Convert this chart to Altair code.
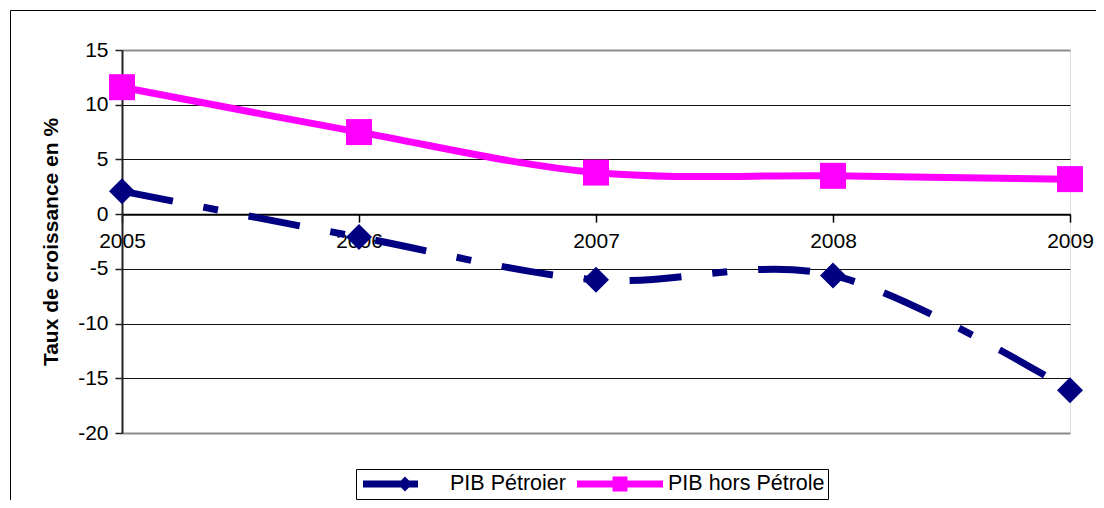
import altair as alt
import pandas as pd

# ---- data ----
years = [2005, 2006, 2007, 2008, 2009]
pib_petrolier = [2.1, -2.1, -6.0, -5.6, -16.1]
pib_hors_petrole = [11.6, 7.5, 3.8, 3.5, 3.2]
series_names = ["PIB Pétroier", "PIB hors Pétrole"]
series_colors = ["#000080", "#FF00FF"]
y_ticks = [-20, -15, -10, -5, 0, 5, 10, 15]

rows = []
for name, vals in zip(series_names, [pib_petrolier, pib_hors_petrole]):
    for yr, v in zip(years, vals):
        rows.append({"annee": yr, "valeur": v, "serie": name})
df = pd.DataFrame(rows)

W, H = 948, 383
YMIN, YMAX = -20, 15
FONT = "Liberation Sans"
FS = 21

x_axis = alt.Axis(
    values=years, format="d", title=None, grid=False,
    offset=-H * (0 - YMIN) / (YMAX - YMIN),
    domainColor="black", domainWidth=2, tickColor="black", tickWidth=1.5,
    tickSize=8, labelFlush=False, labelOverlap=False, labelPadding=8,
    labelFontSize=FS, labelFont=FONT, labelColor="black",
)
y_axis = alt.Axis(
    values=y_ticks, title="Taux de croissance en %", grid=True,
    labelExpr="'' + datum.value",
    gridColor={"condition": {"test": "datum.value == 15 || datum.value == -20", "value": "#8c8c8c"}, "value": "#111111"},
    gridWidth={"condition": {"test": "datum.value == 15 || datum.value == -20", "value": 2}, "value": 1},
    domainColor="#222222", domainWidth=2, tickColor="#222222", tickWidth=1.5,
    tickSize=7, labelPadding=7, labelFontSize=FS, labelFont=FONT, labelColor="black",
    titleFont=FONT, titleFontSize=FS, titleFontWeight="bold", titleColor="black",
    titlePadding=16,
)

x_enc = alt.X("annee:Q", scale=alt.Scale(domain=[2005, 2009], nice=False, zero=False), axis=x_axis)
y_enc = alt.Y("valeur:Q", scale=alt.Scale(domain=[YMIN, YMAX], nice=False, zero=False), axis=y_axis)

base = alt.Chart(df)
petro = base.transform_filter(alt.datum.serie == series_names[0])
hors = base.transform_filter(alt.datum.serie == series_names[1])

line_petro = petro.mark_line(
    strokeWidth=7, interpolate="cardinal", strokeCap="butt",
    strokeDash=[52, 31, 15, 31], color=series_colors[0]
).encode(x=x_enc, y=y_enc)
line_hors = hors.mark_line(
    strokeWidth=7, interpolate="cardinal", strokeCap="butt", color=series_colors[1]
).encode(x=x_enc, y=y_enc)

diamonds = petro.mark_point(
    shape="diamond", size=676, filled=True, opacity=1, strokeWidth=0, color=series_colors[0]
).encode(x=x_enc, y=y_enc)
squares = hors.mark_point(
    shape="square", size=676, filled=True, opacity=1, strokeWidth=0, color=series_colors[1]
).encode(x=x_enc, y=y_enc)

# legend symbols: line segment + marker (unit box -1..1 scaled to 86 px)
path_petro = "M-0.907,-0.08 L0.372,-0.08 L0.372,0.08 L-0.907,0.08 Z M0.07,-0.174 L0.244,0 L0.07,0.174 L-0.104,0 Z"
path_hors = "M-1,-0.08 L1,-0.08 L1,0.08 L-1,0.08 Z M-0.174,-0.174 L0.174,-0.174 L0.174,0.174 L-0.174,0.174 Z"

leg = alt.Legend(
    orient="none", legendX=234, legendY=419, direction="horizontal", title=None,
    strokeColor="black", fillColor="white", padding=3, clipHeight=24,
    symbolSize=7396, symbolStrokeWidth=0, symbolOpacity=1,
    labelFontSize=21.5, labelFont=FONT, labelColor="black", labelOffset=5,
    columnPadding=11,
)
# invisible layer that only provides the legend (line + marker symbols)
legend_layer = base.mark_point(
    size=7396, filled=True, opacity=0, strokeWidth=0
).encode(
    x=x_enc, y=y_enc,
    color=alt.Color("serie:N", scale=alt.Scale(domain=series_names, range=series_colors), legend=leg),
    shape=alt.Shape("serie:N", scale=alt.Scale(domain=series_names, range=[path_petro, path_hors]), legend=leg),
)

frame = pd.DataFrame([{"k": 1}])
border_top = alt.Chart(frame).mark_rule(color="black", strokeWidth=1).encode(
    x=alt.value(-111.5), x2=alt.value(980), y=alt.value(-39.5), y2=alt.value(-39.5)
)
border_left = alt.Chart(frame).mark_rule(color="black", strokeWidth=1).encode(
    x=alt.value(-111.5), x2=alt.value(-111.5), y=alt.value(-39.5), y2=alt.value(460)
)

chart = alt.layer(
    legend_layer, line_petro, line_hors, diamonds, squares, border_top, border_left
).properties(
    width=W, height=H,
    padding={"left": 114, "top": 42, "right": 26, "bottom": 67},
    autosize=alt.AutoSizeParams(type="none"),
).configure_view(stroke="#8c8c8c", strokeWidth=2).configure(background="white")

chart.save("out.html", embed_options={"renderer": "svg", "actions": False})
